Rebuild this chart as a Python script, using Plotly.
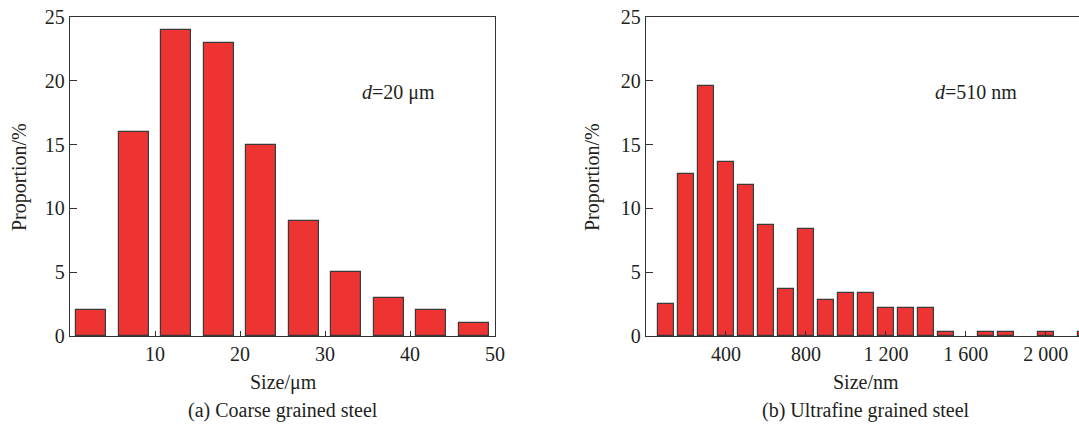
import plotly.graph_objects as go

# Left panel: coarse grained steel
coarse_sizes = [2.5, 7.5, 12.5, 17.5, 22.5, 27.5, 32.5, 37.5, 42.5, 47.5]
coarse_props = [2, 16, 24, 23, 15, 9, 5, 3, 2, 1]
coarse_ticks = [10, 20, 30, 40, 50]
coarse_ticktext = ["10", "20", "30", "40", "50"]

# Right panel: ultrafine grained steel
fine_sizes = [100, 200, 300, 400, 500, 600, 700, 800, 900, 1000, 1100,
              1200, 1300, 1400, 1500, 1600, 1700, 1800, 1900, 2000, 2100, 2200]
fine_props = [2.5, 12.7, 19.6, 13.65, 11.8, 8.7, 3.7, 8.4, 2.8, 3.4, 3.4,
              2.2, 2.2, 2.2, 0.3, 0, 0.3, 0.3, 0, 0.3, 0, 0.3]
fine_ticks = [400, 800, 1200, 1600, 2000]
fine_ticktext = ["400", "800", "1 200", "1 600", "2 000"]

y_ticks = [0, 5, 10, 15, 20, 25]

FONT = "Liberation Serif, Times New Roman, serif"
TXT = "#231f20"
BAR = "#ee3333"
EDGE = "#3a3a3a"
W, H = 1079, 428
FS = 20

fx = [s for s, p in zip(fine_sizes, fine_props) if p > 0]
fy = [p for p in fine_props if p > 0]

fig = go.Figure()
fig.add_trace(go.Bar(x=coarse_sizes, y=coarse_props, width=3.5,
                     marker=dict(color=BAR, line=dict(color=EDGE, width=1.2)),
                     xaxis="x", yaxis="y", showlegend=False))
fig.add_trace(go.Bar(x=fx, y=fy, width=80,
                     marker=dict(color=BAR, line=dict(color=EDGE, width=1.2)),
                     xaxis="x2", yaxis="y2", showlegend=False))

yd = [(H - 336) / H, (H - 17) / H]
axis_common = dict(showgrid=False, zeroline=False, showline=True, linecolor="#333333",
                   linewidth=1.3, ticks="inside", tickcolor="#333333", automargin=False,
                   tickfont=dict(family=FONT, size=FS, color=TXT))

fig.update_layout(
    width=W, height=H, margin=dict(l=0, r=0, t=0, b=0),
    plot_bgcolor="white", paper_bgcolor="white",
    bargap=0,
    xaxis=dict(domain=[70 / W, 495 / W], range=[0, 50], tickvals=coarse_ticks,
               ticktext=coarse_ticktext, ticklen=5, mirror=True, anchor="y", **axis_common),
    yaxis=dict(domain=yd, range=[0, 25], tickvals=y_ticks, ticklen=7, mirror=True,
               anchor="x", **axis_common),
    xaxis2=dict(domain=[646 / W, 1.0], range=[0, 2166], tickvals=fine_ticks,
                ticktext=fine_ticktext, ticklen=5, mirror=True, anchor="y2", **axis_common),
    yaxis2=dict(domain=yd, range=[0, 25], tickvals=y_ticks, ticklen=7, mirror=False,
                anchor="x2", **axis_common),
)

def ann(x, y, text, size=FS, angle=0):
    fig.add_annotation(x=x / W, y=1 - y / H, xref="paper", yref="paper", text=text,
                       showarrow=False, textangle=angle,
                       font=dict(family=FONT, size=size, color=TXT),
                       xanchor="center", yanchor="middle")

ann(20, 177, "Proportion/%", angle=-90)
ann(593, 177, "Proportion/%", angle=-90)
ann(283, 382, "Size/μm")
ann(866, 382, "Size/nm")
ann(283, 410, "(a) Coarse grained steel")
ann(866, 410, "(b) Ultrafine grained steel")
ann(398, 92, "<i>d</i>=20 μm")
ann(976, 92, "<i>d</i>=510 nm")

fig.write_html("out.html")
